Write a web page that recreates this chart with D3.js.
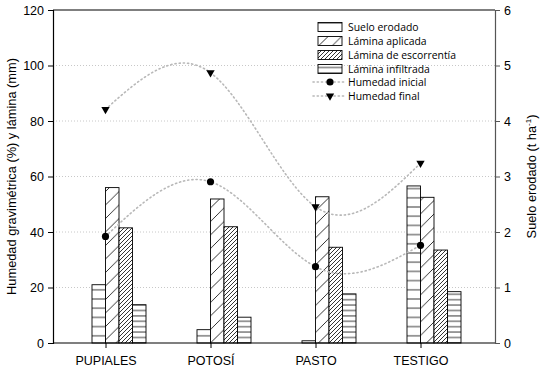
<!DOCTYPE html>
<html><head><meta charset="utf-8">
<script src="https://cdn.jsdelivr.net/npm/d3@7"></script>
<style>body{margin:0;background:#fff}svg{display:block}</style>
</head><body><svg id="c" width="550" height="375"></svg>
<script>
const categories = ["PUPIALES","POTOSÍ","PASTO","TESTIGO"];
const sueloErodado = [1.05, 0.24, 0.04, 2.83];
const laminaAplicada = [56.0, 51.9, 52.7, 52.5];
const laminaEscorrentia = [41.5, 41.9, 34.5, 33.5];
const laminaInfiltrada = [13.8, 9.3, 17.7, 18.5];
const humedadInicial = [38.4, 58.1, 27.5, 35.2];
const humedadFinal = [84.2, 97.4, 49.1, 64.8];
const leftTicks = [0,20,40,60,80,100,120];
const rightTicks = [0,1,2,3,4,5,6];
const legendLabels = ["Suelo erodado","Lámina aplicada","Lámina de escorrentía","Lámina infiltrada","Humedad inicial","Humedad final"];

const svg = d3.select("#c");
const L = 53, R = 495, T = 10, B = 343;
const x = d3.scalePoint().domain(categories).range([105.5, 420.5]);
const y = d3.scaleLinear().domain([0,120]).range([B,T]);
const y2 = d3.scaleLinear().domain([0,6]).range([B,T]);
const bw = 13.5;

const defs = svg.append("defs");
function hPat(id, h){
  const p = defs.append("pattern").attr("id",id).attr("patternUnits","userSpaceOnUse").attr("width",10).attr("height",h);
  p.append("rect").attr("width",10).attr("height",h).attr("fill","#fff");
  p.append("line").attr("x1",0).attr("x2",10).attr("y1",h/2).attr("y2",h/2).attr("stroke","#000").attr("stroke-width",0.8);
}
function dPat(id, s){
  const p = defs.append("pattern").attr("id",id).attr("patternUnits","userSpaceOnUse").attr("width",s).attr("height",s);
  p.append("rect").attr("width",s).attr("height",s).attr("fill","#fff");
  p.append("path").attr("d",`M0,${s} L${s},0 M${-s/2},${s/2} L${s/2},${-s/2} M${s/2},${s*1.5} L${s*1.5},${s/2}`).attr("stroke","#000").attr("stroke-width",0.8);
}
hPat("pSuelo", 9.2);
dPat("pAplic", 13.5);
dPat("pEsc", 4);
hPat("pInf", 5.4);

// grid
const g = svg.append("g");
g.selectAll("line.grid").data([20,40,60,80,100]).join("line")
  .attr("x1",L).attr("x2",R).attr("y1",d=>y(d)).attr("y2",d=>y(d))
  .attr("stroke","#c8c8c8").attr("stroke-width",1).attr("stroke-dasharray","1,2");

// bars
const series = [
  {vals: sueloErodado, sc: y2, fill:"url(#pSuelo)", off:-1},
  {vals: laminaAplicada, sc: y, fill:"url(#pAplic)", off:0},
  {vals: laminaEscorrentia, sc: y, fill:"url(#pEsc)", off:1},
  {vals: laminaInfiltrada, sc: y, fill:"url(#pInf)", off:2}
];
series.forEach(s=>{
  svg.append("g").selectAll("rect").data(categories).join("rect")
    .attr("x",(c)=>x(c)+s.off*bw).attr("width",bw)
    .attr("y",(c,i)=>s.sc(s.vals[i])).attr("height",(c,i)=>B - s.sc(s.vals[i]))
    .attr("fill",s.fill).attr("stroke","#000").attr("stroke-width",0.9);
});

// curves
const line = d3.line().x((d,i)=>x(categories[i])).y(d=>y(d)).curve(d3.curveNatural);
[humedadInicial, humedadFinal].forEach(arr=>{
  svg.append("path").attr("d",line(arr)).attr("fill","none")
    .attr("stroke","#b8b8b8").attr("stroke-width",1.6).attr("stroke-dasharray","1.2,3").attr("stroke-linecap","round");
});
svg.append("g").selectAll("circle").data(humedadInicial).join("circle")
  .attr("cx",(d,i)=>x(categories[i])).attr("cy",d=>y(d)).attr("r",3.6).attr("fill","#000");
const tri = d3.symbol().type(d3.symbolTriangle).size(30);
svg.append("g").selectAll("path").data(humedadFinal).join("path")
  .attr("d",tri).attr("transform",(d,i)=>`translate(${x(categories[i])},${y(d)}) rotate(180)`).attr("fill","#000");

// frame
svg.append("line").attr("x1",L).attr("x2",R).attr("y1",T).attr("y2",T).attr("stroke","#000").attr("stroke-width",1.2);
svg.append("line").attr("x1",L).attr("x2",R).attr("y1",B).attr("y2",B).attr("stroke","#000").attr("stroke-width",1.2);

// axes
const ax = svg.append("g").attr("transform",`translate(${L},0)`)
  .call(d3.axisLeft(y).tickValues(leftTicks).tickSize(5).tickPadding(4));
ax.select(".domain").attr("stroke","#000").attr("stroke-width",1.2);
ax.selectAll("text").attr("font-family","Liberation Sans, Arial").attr("font-size",12.5).attr("fill","#000");
const ax2 = svg.append("g").attr("transform",`translate(${R},0)`)
  .call(d3.axisRight(y2).tickValues(rightTicks).tickFormat(d3.format("d")).tickSize(5).tickPadding(4));
ax2.select(".domain").attr("stroke","#555").attr("stroke-width",1.2);
ax2.selectAll("line").attr("stroke","#555");
ax2.selectAll("text").attr("font-family","Liberation Sans, Arial").attr("font-size",12.5).attr("fill","#000");
const axb = svg.append("g").attr("transform",`translate(0,${B})`)
  .call(d3.axisBottom(x).tickSize(5).tickPadding(8));
axb.select(".domain").remove();
axb.selectAll("text").attr("font-family","Liberation Sans, Arial").attr("font-size",12.5).attr("fill","#000");

// titles
svg.append("text").attr("transform",`translate(16,${(T+B)/2}) rotate(-90)`).attr("text-anchor","middle")
  .attr("font-family","Liberation Sans, Arial").attr("font-size",12.8).text("Humedad gravimétrica (%) y lámina (mm)");
const t2 = svg.append("text").attr("transform",`translate(536,${(T+B)/2}) rotate(-90)`).attr("text-anchor","middle")
  .attr("font-family","Liberation Sans, Arial").attr("font-size",12.8);
t2.append("tspan").text("Suelo erodado (t ha");
t2.append("tspan").attr("dy",-5).attr("font-size",8).text("-1");
t2.append("tspan").attr("dy",5).text(")");

// legend
const lg = svg.append("g");
const ly = [27, 41, 55, 69, 82, 96];
const pats = ["url(#pSuelo)","url(#pAplic)","url(#pEsc)","url(#pInf)"];
legendLabels.forEach((lab,i)=>{
  if(i<4){
    lg.append("rect").attr("x",318).attr("y",ly[i]-4.5).attr("width",24).attr("height",9)
      .attr("fill",pats[i]).attr("stroke","#000").attr("stroke-width",0.9);
  } else {
    lg.append("line").attr("x1",313).attr("x2",345).attr("y1",ly[i]).attr("y2",ly[i])
      .attr("stroke","#b8b8b8").attr("stroke-width",1.6).attr("stroke-dasharray","1.2,3").attr("stroke-linecap","round");
    if(i===4) lg.append("circle").attr("cx",330).attr("cy",ly[i]).attr("r",3.6).attr("fill","#000");
    else lg.append("path").attr("d",tri).attr("transform",`translate(330,${ly[i]}) rotate(180)`).attr("fill","#000");
  }
  lg.append("text").attr("x",348).attr("y",ly[i]).attr("dy","0.35em")
    .attr("font-family","Open Sans").attr("font-size",10.4).text(lab);
});
</script></body></html>
